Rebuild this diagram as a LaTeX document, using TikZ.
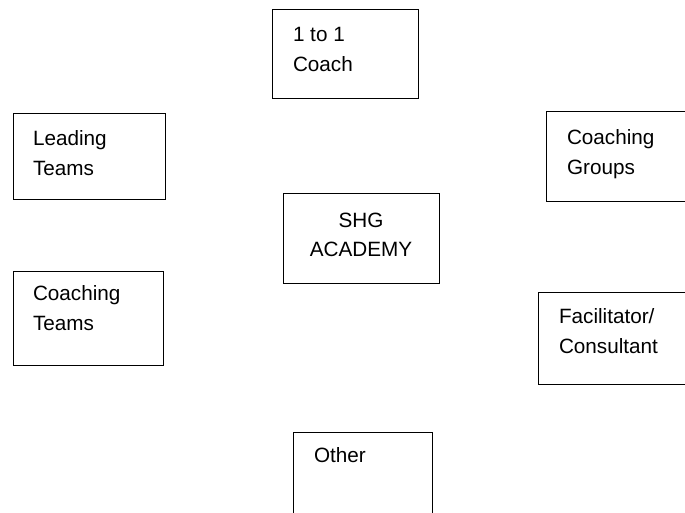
\documentclass[tikz,border=0pt]{standalone}
\usepackage{fontspec}
\setmainfont{Liberation Sans}
% two stacked lines; the box's baseline is the first line's baseline
\newcommand\stackleft[2]{\vtop{\baselineskip=30pt\hbox{#1}\hbox{#2}}}
\newcommand\stackmid[2]{\vtop{\baselineskip=29pt\halign{\hfil##\hfil\cr#1\cr#2\cr}}}
\begin{document}
\begin{tikzpicture}[x=1pt,y=-1pt,
  panel/.style={draw=black,line width=1pt,rectangle,inner sep=0pt,outer sep=0pt},
  label/.style={inner sep=0pt,outer sep=0pt,font=\fontsize{20.7}{30}\selectfont,text=black}]
  \clip (0,0) rectangle (685,512);
  \fill[white] (0,0) rectangle (685,512);

  % frames
  \node[panel,minimum width=146pt,minimum height=89pt] (coach)   at (345,53.5)  {};
  \node[panel,minimum width=152pt,minimum height=86pt] (leading) at (89,156)    {};
  \node[panel,minimum width=146pt,minimum height=90pt] (groups)  at (619,156)   {};
  \node[panel,minimum width=156pt,minimum height=90pt] (academy) at (361,238)   {};
  \node[panel,minimum width=150pt,minimum height=94pt] (cteams)  at (88,318)    {};
  \node[panel,minimum width=148pt,minimum height=92pt] (facil)   at (612,338)   {};
  \node[panel,minimum width=139pt,minimum height=88pt] (other)   at (362.5,476) {};

  % captions
  \node[label,anchor=base west] (coachtxt)   at (293,41)  {\stackleft{1 to 1}{Coach}};
  \node[label,anchor=base west] (leadingtxt) at (33,145)  {\stackleft{Leading}{Teams}};
  \node[label,anchor=base west] (groupstxt)  at (567,144) {\stackleft{Coaching}{Groups}};
  \node[label,anchor=base]      (academytxt) at (361,227) {\stackmid{SHG}{ACADEMY}};
  \node[label,anchor=base west] (cteamstxt)  at (33,300)  {\stackleft{Coaching}{Teams}};
  \node[label,anchor=base west] (faciltxt)   at (559,323) {\stackleft{Facilitator/}{Consultant}};
  \node[label,anchor=base west] (othertxt)   at (314,462) {Other};
\end{tikzpicture}
\end{document}
